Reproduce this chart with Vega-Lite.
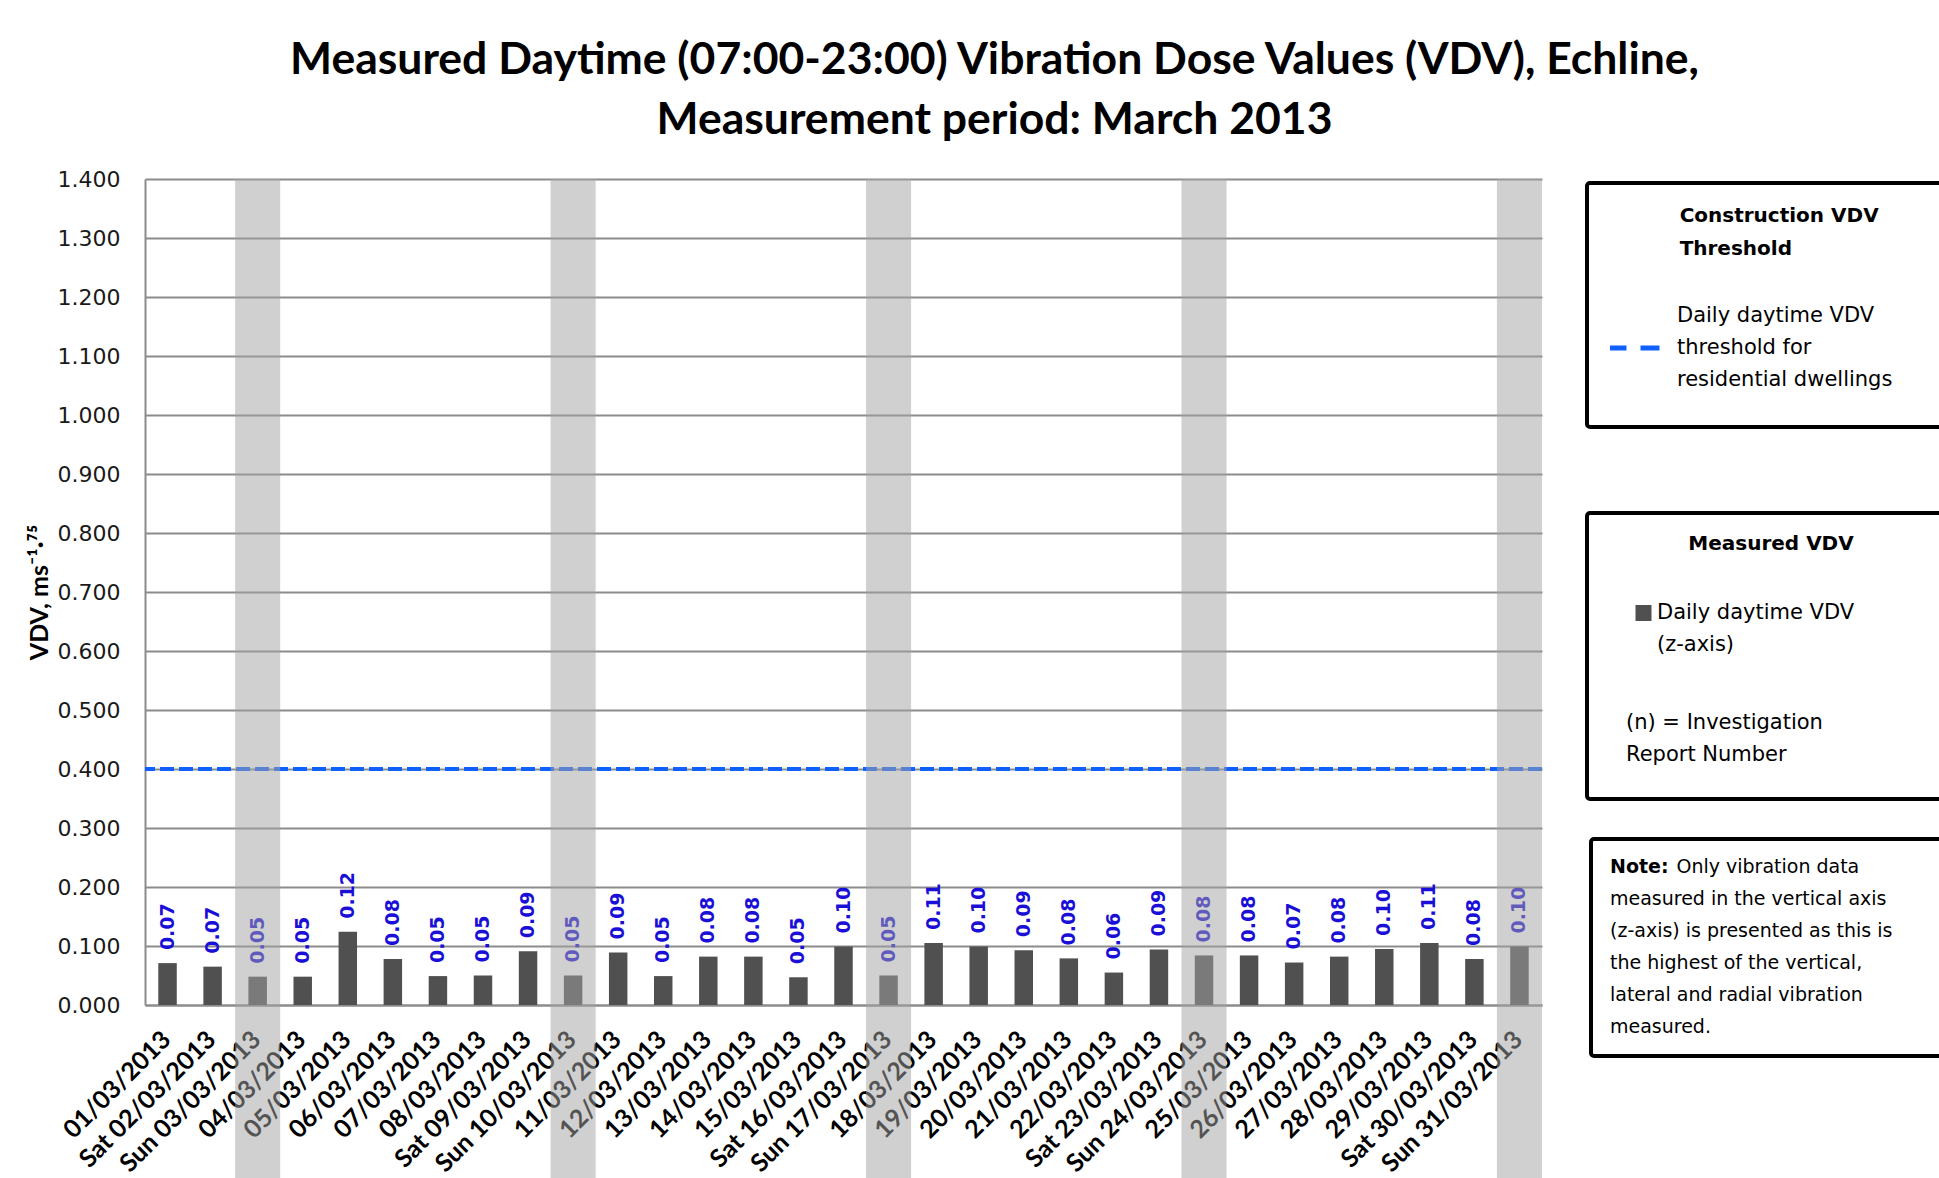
{
  "$schema": "https://vega.github.io/schema/vega-lite/v6.json",
  "width": 1397,
  "height": 826,
  "autosize": "none",
  "padding": {"left": 145, "top": 179, "right": 397, "bottom": 173},
  "background": "white",
  "title": {
    "text": ["Measured Daytime (07:00-23:00) Vibration Dose Values (VDV), Echline,", "Measurement period: March 2013"],
    "font": "Lato",
    "fontSize": 44.5,
    "fontWeight": "bold",
    "color": "black",
    "anchor": "middle",
    "frame": "group",
    "dx": 151,
    "lineHeight": 60,
    "offset": 25
  },
  "datasets": {
    "days": [
      {"date": "01/03/2013", "vdv": 0.071, "label": "0.07", "series": "z"},
      {"date": "Sat 02/03/2013", "vdv": 0.065, "label": "0.07", "series": "z"},
      {"date": "Sun 03/03/2013", "vdv": 0.048, "label": "0.05", "series": "z"},
      {"date": "04/03/2013", "vdv": 0.048, "label": "0.05", "series": "z"},
      {"date": "05/03/2013", "vdv": 0.124, "label": "0.12", "series": "z"},
      {"date": "06/03/2013", "vdv": 0.078, "label": "0.08", "series": "z"},
      {"date": "07/03/2013", "vdv": 0.049, "label": "0.05", "series": "z"},
      {"date": "08/03/2013", "vdv": 0.050, "label": "0.05", "series": "z"},
      {"date": "Sat 09/03/2013", "vdv": 0.091, "label": "0.09", "series": "z"},
      {"date": "Sun 10/03/2013", "vdv": 0.050, "label": "0.05", "series": "z"},
      {"date": "11/03/2013", "vdv": 0.089, "label": "0.09", "series": "z"},
      {"date": "12/03/2013", "vdv": 0.049, "label": "0.05", "series": "z"},
      {"date": "13/03/2013", "vdv": 0.082, "label": "0.08", "series": "z"},
      {"date": "14/03/2013", "vdv": 0.082, "label": "0.08", "series": "z"},
      {"date": "15/03/2013", "vdv": 0.047, "label": "0.05", "series": "z"},
      {"date": "Sat 16/03/2013", "vdv": 0.099, "label": "0.10", "series": "z"},
      {"date": "Sun 17/03/2013", "vdv": 0.050, "label": "0.05", "series": "z"},
      {"date": "18/03/2013", "vdv": 0.105, "label": "0.11", "series": "z"},
      {"date": "19/03/2013", "vdv": 0.099, "label": "0.10", "series": "z"},
      {"date": "20/03/2013", "vdv": 0.093, "label": "0.09", "series": "z"},
      {"date": "21/03/2013", "vdv": 0.079, "label": "0.08", "series": "z"},
      {"date": "22/03/2013", "vdv": 0.055, "label": "0.06", "series": "z"},
      {"date": "Sat 23/03/2013", "vdv": 0.094, "label": "0.09", "series": "z"},
      {"date": "Sun 24/03/2013", "vdv": 0.084, "label": "0.08", "series": "z"},
      {"date": "25/03/2013", "vdv": 0.084, "label": "0.08", "series": "z"},
      {"date": "26/03/2013", "vdv": 0.072, "label": "0.07", "series": "z"},
      {"date": "27/03/2013", "vdv": 0.082, "label": "0.08", "series": "z"},
      {"date": "28/03/2013", "vdv": 0.095, "label": "0.10", "series": "z"},
      {"date": "29/03/2013", "vdv": 0.105, "label": "0.11", "series": "z"},
      {"date": "Sat 30/03/2013", "vdv": 0.078, "label": "0.08", "series": "z"},
      {"date": "Sun 31/03/2013", "vdv": 0.099, "label": "0.10", "series": "z"}
    ],
    "sundays": [
      {"date": "Sun 03/03/2013", "noteA": "noteA", "noteB": "noteB"},
      {"date": "Sun 10/03/2013", "noteA": "noteA", "noteB": "noteB"},
      {"date": "Sun 17/03/2013", "noteA": "noteA", "noteB": "noteB"},
      {"date": "Sun 24/03/2013", "noteA": "noteA", "noteB": "noteB"},
      {"date": "Sun 31/03/2013", "noteA": "noteA", "noteB": "noteB"}
    ],
    "threshold": [
      {"value": 0.4, "key": "threshold"}
    ]
  },
  "layer": [
    {
      "data": {"name": "days"},
      "mark": {"type": "bar", "width": {"band": 0.41}},
      "encoding": {
        "x": {
          "field": "date",
          "type": "nominal",
          "scale": {
            "domain": ["01/03/2013", "Sat 02/03/2013", "Sun 03/03/2013", "04/03/2013", "05/03/2013", "06/03/2013", "07/03/2013", "08/03/2013", "Sat 09/03/2013", "Sun 10/03/2013", "11/03/2013", "12/03/2013", "13/03/2013", "14/03/2013", "15/03/2013", "Sat 16/03/2013", "Sun 17/03/2013", "18/03/2013", "19/03/2013", "20/03/2013", "21/03/2013", "22/03/2013", "Sat 23/03/2013", "Sun 24/03/2013", "25/03/2013", "26/03/2013", "27/03/2013", "28/03/2013", "29/03/2013", "Sat 30/03/2013", "Sun 31/03/2013"],
            "paddingInner": 0,
            "paddingOuter": 0
          },
          "axis": {
            "title": null,
            "domainColor": "#8c8c8c",
            "domainWidth": 2,
            "ticks": false,
            "grid": false,
            "labelAngle": -45,
            "labelAlign": "right",
            "labelBaseline": "middle",
            "labelFont": "Lato",
            "labelFontWeight": "bold",
            "labelFontSize": 25,
            "labelColor": "black",
            "labelPadding": 30,
            "labelOffset": -1,
            "labelLimit": 400,
            "labelOverlap": false,
            "zindex": 0
          }
        },
        "y": {
          "field": "vdv",
          "type": "quantitative",
          "scale": {"domain": [0, 1.4], "nice": false, "zero": true},
          "axis": {
            "title": "VDV, ms⁻¹·⁷⁵",
            "values": [0, 0.1, 0.2, 0.3, 0.4, 0.5, 0.6, 0.7, 0.8, 0.9, 1.0, 1.1, 1.2, 1.3, 1.4],
            "format": ".3f",
            "grid": true,
            "gridColor": "#8c8c8c",
            "gridWidth": 2,
            "domainColor": "#8c8c8c",
            "domainWidth": 2,
            "ticks": false,
            "labelFont": "DejaVu Sans",
            "labelFontSize": 22,
            "labelColor": "#1a1a1a",
            "labelPadding": 25,
            "labelFlush": false,
            "labelOverlap": false,
            "titleFont": "Lato",
            "titleFontWeight": "bold",
            "titleFontSize": 25,
            "titleColor": "black",
            "titlePadding": 5,
            "zindex": 0
          }
        },
        "color": {
          "field": "series",
          "type": "nominal",
          "scale": {"domain": ["z", "n"], "range": ["#505050", "transparent"]},
          "legend": {
            "orient": "none",
            "legendX": 1442,
            "legendY": 334,
            "title": "Measured VDV",
            "titleFont": "DejaVu Sans",
            "titleFontSize": 20,
            "titleFontWeight": "bold",
            "titleColor": "black",
            "titleAnchor": "middle",
            "titleLimit": 600,
            "titlePadding": 4,
            "labelFont": "DejaVu Sans",
            "labelFontSize": 21,
            "labelColor": "black",
            "labelLimit": 600,
            "labelOffset": 3,
            "labelBaseline": "top",
            "labelExpr": "datum.value == 'z' ? ['Daily daytime VDV\u00a0\u00a0\u00a0\u00a0\u00a0\u00a0\u00a0\u00a0\u00a0\u00a0\u00a0\u00a0\u200b', '(z-axis)'] : ['(n) = Investigation', 'Report Number']",
            "symbolType": "square",
            "symbolSize": 256,
            "symbolStrokeWidth": 0,
            "symbolOffset": 25,
            "clipHeight": 110,
            "rowPadding": 0,
            "padding": 21,
            "strokeColor": "black",
            "cornerRadius": 3,
            "encode": {
              "labels": {
                "update": {
                  "lineHeight": {"value": 32},
                  "dy": {"value": -11},
                  "dx": [{"test": "datum.value == 'n'", "value": -31}, {"value": 0}]
                }
              }
            }
          }
        }
      }
    },
    {
      "data": {"name": "days"},
      "mark": {"type": "text", "angle": 270, "align": "left", "baseline": "middle", "dx": 13, "font": "DejaVu Sans", "fontSize": 19, "fontWeight": "bold", "color": "#1a0fd6"},
      "encoding": {
        "x": {"field": "date", "type": "nominal"},
        "y": {"field": "vdv", "type": "quantitative"},
        "text": {"field": "label"}
      }
    },
    {
      "data": {"name": "threshold"},
      "mark": {"type": "rule", "color": "#1060ff", "strokeWidth": 4, "strokeDash": [14, 5]},
      "encoding": {
        "y": {"field": "value", "type": "quantitative"},
        "opacity": {
          "field": "key",
          "type": "nominal",
          "scale": {"type": "ordinal", "domain": ["threshold"], "range": [1]},
          "legend": {
            "orient": "none",
            "legendX": 1442,
            "legendY": 4,
            "title": ["\u200b\u00a0\u00a0\u00a0\u00a0\u00a0\u00a0\u00a0\u00a0\u00a0\u00a0Construction VDV", "\u200b\u00a0\u00a0\u00a0\u00a0\u00a0\u00a0\u00a0\u00a0\u00a0\u00a0Threshold"],
            "titleFont": "DejaVu Sans",
            "titleFontSize": 20,
            "titleFontWeight": "bold",
            "titleColor": "black",
            "titleLineHeight": 33,
            "titleLimit": 600,
            "titlePadding": 33,
            "titleAnchor": "start",
            "titleAlign": "left",
            "labelFont": "DejaVu Sans",
            "labelFontSize": 21,
            "labelColor": "black",
            "labelLimit": 600,
            "labelOffset": 15,
            "labelExpr": "['Daily daytime VDV', 'threshold for', 'residential dwellings\u00a0\u00a0\u00a0\u00a0\u00a0\u00a0\u200b']",
            "symbolType": "stroke",
            "symbolSize": 2704,
            "symbolStrokeWidth": 5,
            "symbolStrokeColor": "#1060ff",
            "symbolDash": [19, 14],
            "symbolOffset": -5,
            "clipHeight": 112,
            "padding": 23,
            "strokeColor": "black",
            "cornerRadius": 3,
            "encode": {
              "labels": {"update": {"lineHeight": {"value": 32}, "dy": {"value": -32}}},
              "symbols": {"update": {"strokeDash": {"value": [19, 14]}, "stroke": {"value": "#1060ff"}, "strokeWidth": {"value": 5}}}
            }
          }
        }
      }
    },
    {
      "data": {"name": "sundays"},
      "mark": {"type": "rect", "color": "#a2a2a2", "opacity": 0.51},
      "encoding": {
        "x": {"field": "date", "type": "nominal"},
        "y": {"datum": 1.4, "type": "quantitative"},
        "y2": {"datum": -0.3},
        "strokeWidth": {
          "field": "noteA",
          "type": "nominal",
          "scale": {"type": "ordinal", "domain": ["noteA"], "range": [0]},
          "legend": {
            "orient": "none",
            "legendX": 1446,
            "legendY": 660,
            "title": ["\u200b\u00a0\u00a0\u00a0\u00a0\u00a0\u00a0\u00a0\u00a0\u00a0\u00a0\u00a0Only vibration data", "measured in the vertical axis", "(z-axis) is presented as this is\u00a0\u00a0\u00a0\u00a0\u00a0\u00a0\u00a0\u200b", "the highest of the vertical,", "lateral and radial vibration", "measured."],
            "titleFont": "DejaVu Sans",
            "titleFontSize": 19,
            "titleFontWeight": "normal",
            "titleColor": "black",
            "titleLineHeight": 32,
            "titleLimit": 700,
            "titlePadding": 0,
            "symbolOpacity": 0,
            "symbolSize": 0,
            "labelOpacity": 0,
            "labelFontSize": 1,
            "labelExpr": "''",
            "padding": 19,
            "strokeColor": "black",
            "cornerRadius": 3
          }
        },
        "stroke": {
          "field": "noteB",
          "type": "nominal",
          "scale": {"domain": ["noteB"], "range": ["transparent"]},
          "legend": {
            "orient": "none",
            "legendX": 1446,
            "legendY": 660,
            "title": "Note:",
            "titleFont": "DejaVu Sans",
            "titleFontSize": 19,
            "titleFontWeight": "bold",
            "titleColor": "black",
            "titleLimit": 700,
            "titlePadding": 0,
            "symbolOpacity": 0,
            "symbolSize": 0,
            "labelOpacity": 0,
            "labelFontSize": 1,
            "labelExpr": "''",
            "padding": 19
          }
        }
      }
    }
  ],
  "config": {
    "view": {"stroke": null},
    "legend": {"strokeWidth": 4}
  }
}
